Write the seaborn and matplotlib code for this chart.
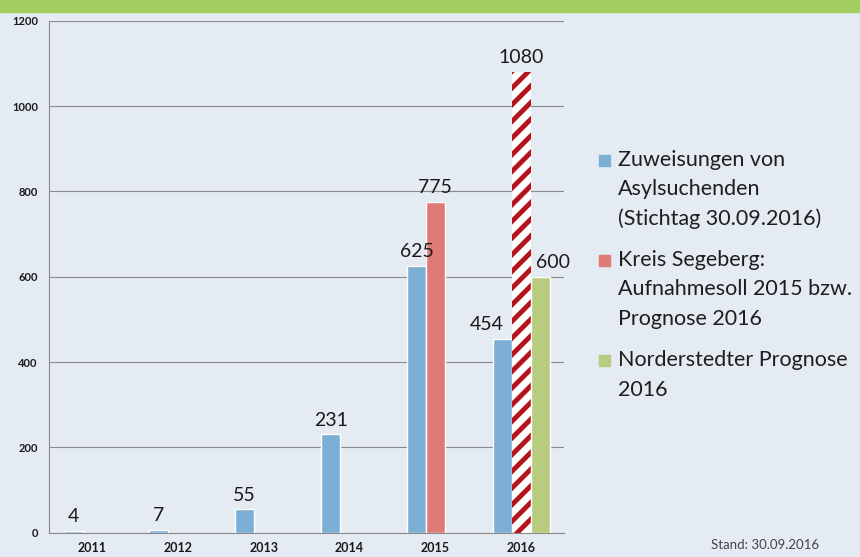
import numpy as np
import pandas as pd
import matplotlib
matplotlib.use("Agg")
import matplotlib.pyplot as plt
import seaborn as sns
from matplotlib.patches import Rectangle

years = ["2011", "2012", "2013", "2014", "2015", "2016"]
zuweisungen = [4, 7, 55, 231, 625, 454]
kreis = [np.nan, np.nan, np.nan, np.nan, 775, 1080]
norderstedt = [np.nan, np.nan, np.nan, np.nan, np.nan, 600]
series_names = ["Zuweisungen von Asylsuchenden (Stichtag 30.09.2016)",
                "Kreis Segeberg: Aufnahmesoll 2015 bzw. Prognose 2016",
                "Norderstedter Prognose 2016"]
legend_lines = [["Zuweisungen von", "Asylsuchenden", "(Stichtag 30.09.2016)"],
                ["Kreis Segeberg:", "Aufnahmesoll 2015 bzw.", "Prognose 2016"],
                ["Norderstedter Prognose", "2016"]]
colors = ["#7bafd6", "#e07a77", "#b7cc7e"]

rows = []
for vals, name in zip((zuweisungen, kreis, norderstedt), series_names):
    for y, v in zip(years, vals):
        rows.append({"Jahr": y, "Wert": v, "Serie": name})
df = pd.DataFrame(rows)

sns.set_style("white")
plt.rcParams["font.family"] = ["Lato", "DejaVu Sans"]
plt.rcParams["hatch.linewidth"] = 3.5

bg = "#e5ebf2"
fig = plt.figure(figsize=(8.6, 5.57), dpi=100, facecolor=bg)
fig.patches.append(Rectangle((0, 0.978), 1, 0.022, transform=fig.transFigure,
                             color="#a2ce61", zorder=0))
ax = fig.add_axes([0.057, 0.0436, 0.599, 0.9192])
ax.set_facecolor(bg)

sns.barplot(data=df, x="Jahr", y="Wert", hue="Serie", order=years,
            hue_order=series_names, palette=colors, width=0.66,
            saturation=1, errorbar=None, legend=False, ax=ax)

# value labels; 2016 labels nudged apart like in the original
nudge = {454: -11, 600: 9}
for p in ax.patches:
    h = p.get_height()
    if not np.isfinite(h) or h == 0:
        continue
    if abs(h - 1080) < 0.5:
        p.set_facecolor("white")
        p.set_edgecolor("#b5141f")
        p.set_hatch("//")
        p.set_linewidth(0)
    ax.annotate(f"{int(h)}", (p.get_x() + p.get_width() / 2, h),
                xytext=(nudge.get(int(h), 0), 4), textcoords="offset points",
                ha="center", va="bottom", fontsize=14, color="#1a1a1a")

ax.set_ylim(0, 1200)
ax.set_yticks(range(0, 1201, 200))
ax.set_xlim(-0.5, 5.5)
ax.yaxis.grid(True, color="#8a8a8a", linewidth=0.8)
ax.set_axisbelow(True)
for s in ("top", "right"):
    ax.spines[s].set_visible(False)
for s in ("left", "bottom"):
    ax.spines[s].set_color("#8a8a8a")
    ax.spines[s].set_linewidth(0.8)
ax.tick_params(axis="y", length=4, color="#8a8a8a", labelsize=8, pad=4)
ax.tick_params(axis="x", length=0, labelsize=9, pad=7)
for t in ax.get_yticklabels() + ax.get_xticklabels():
    t.set_fontweight("bold")
    t.set_color("#1a1a1a")
ax.set_xlabel("")
ax.set_ylabel("")

# legend with marker aligned to the first text line
y0 = 1 - 160 / 557
line_h = 29.5 / 557
gap = 41 / 557
y = y0
for c, lines in zip(colors, legend_lines):
    fig.patches.append(Rectangle((599 / 860, y - 6 / 557), 11 / 860, 11 / 557,
                                 transform=fig.transFigure, color=c))
    for k, line in enumerate(lines):
        fig.text(618 / 860, y - k * line_h, line, ha="left", va="center",
                 fontsize=15.5, color="#1e1e1e")
    y -= (len(lines) - 1) * line_h + gap

fig.text(0.952, 0.01, "Stand: 30.09.2016", ha="right", va="bottom",
         fontsize=9.5, color="#444444")

fig.savefig("out.png", dpi=100, facecolor=bg)
